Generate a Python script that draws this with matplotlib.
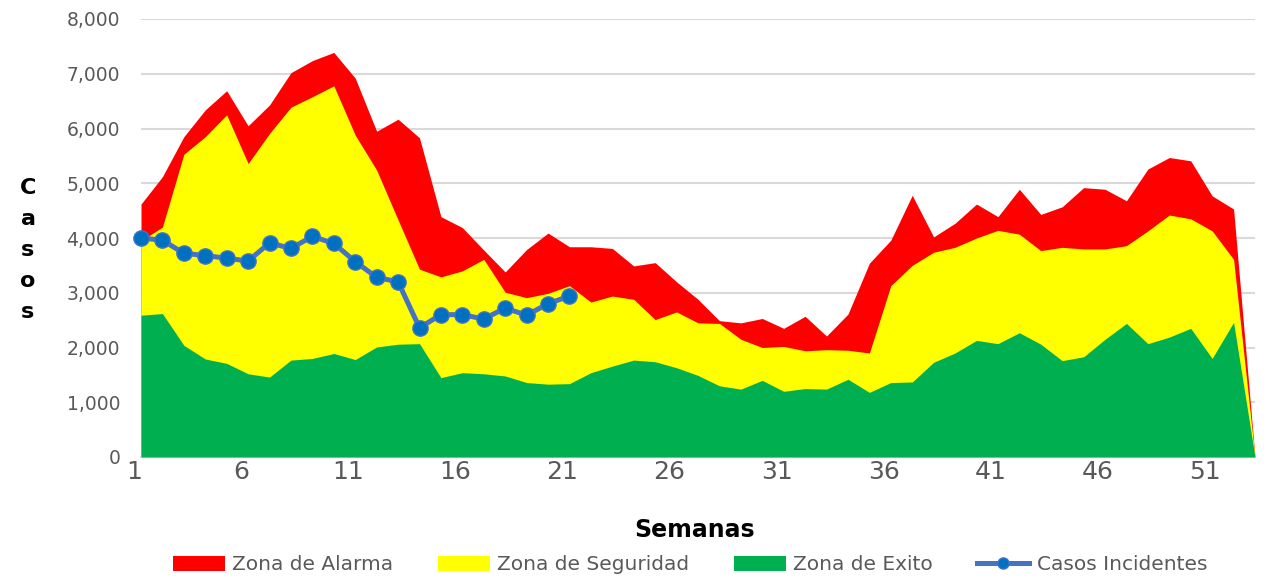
import matplotlib.pyplot as plt
from matplotlib.patches import Patch
from matplotlib.lines import Line2D
from matplotlib.ticker import FuncFormatter
import matplotlib.transforms as mtransforms
import numpy as np

plt.rcParams['font.family'] = ['DejaVu Sans']

weeks = list(range(1, 54))

# Zona de Alarma (upper limit), week 1..53
alarma = [4620, 5120, 5850, 6340, 6690, 6050, 6430, 7020, 7240, 7390,
          6920, 5950, 6170, 5830, 4390, 4190, 3780, 3380, 3790, 4090,
          3840, 3840, 3810, 3490, 3550, 3200, 2880, 2490, 2450, 2530,
          2350, 2570, 2210, 2610, 3540, 3960, 4780, 4020, 4270, 4620,
          4390, 4890, 4430, 4570, 4920, 4890, 4680, 5260, 5470, 5410,
          4770, 4530, 0]

# Zona de Seguridad (upper limit)
seguridad = [3950, 4200, 5530, 5850, 6250, 5360, 5910, 6390, 6580, 6780,
             5880, 5240, 4330, 3430, 3290, 3400, 3610, 3010, 2910, 2990,
             3130, 2830, 2940, 2880, 2510, 2650, 2450, 2440, 2150, 2000,
             2020, 1940, 1960, 1950, 1900, 3130, 3500, 3740, 3830, 4000,
             4140, 4070, 3770, 3830, 3800, 3800, 3860, 4130, 4420, 4350,
             4130, 3610, 0]

# Zona de Exito (upper limit)
exito = [2590, 2620, 2040, 1790, 1710, 1520, 1460, 1770, 1800, 1890,
         1780, 2010, 2060, 2070, 1450, 1540, 1520, 1480, 1360, 1330,
         1340, 1540, 1660, 1770, 1740, 1630, 1490, 1300, 1240, 1400,
         1200, 1250, 1240, 1420, 1180, 1360, 1370, 1730, 1900, 2130,
         2070, 2270, 2060, 1760, 1830, 2150, 2440, 2070, 2190, 2350,
         1800, 2460, 0]

# Casos Incidentes, weeks 1..21
casos = [4000, 3960, 3720, 3680, 3630, 3580, 3910, 3810, 4030, 3900,
         3570, 3280, 3200, 2360, 2600, 2600, 2520, 2720, 2590, 2800, 2940]

red = '#FF0000'
yellow = '#FFFF00'
green = '#00B050'
blue_line = '#4472C4'
blue_mark = '#0070C0'
text_gray = '#595959'

fig = plt.figure(figsize=(12.66, 5.78), dpi=100)
ax = fig.add_axes([141 / 1266, 121 / 578, 1114 / 1266, 438 / 578])

ax.fill_between(weeks, 0, alarma, color=red, lw=0, zorder=2)
ax.fill_between(weeks, 0, seguridad, color=yellow, lw=0, zorder=3)
ax.fill_between(weeks, 0, exito, color=green, lw=0, zorder=4)
ax.plot(weeks[:len(casos)], casos, color=blue_line, lw=3.6, marker='o',
        markersize=11, markerfacecolor=blue_mark, markeredgecolor=blue_line,
        markeredgewidth=1, zorder=5, clip_on=False)

ax.set_xlim(1, 53)
ax.set_ylim(0, 8000)
ax.set_yticks(np.arange(0, 8001, 1000))
ax.yaxis.set_major_formatter(FuncFormatter(lambda v, p: f'{int(v):,}'))
ax.set_xticks(range(1, 54, 5))

ax.grid(axis='y', color='#D9D9D9', lw=1.5, zorder=1)
ax.set_axisbelow(True)
for s in ['top', 'right', 'left']:
    ax.spines[s].set_visible(False)
ax.spines['bottom'].set_color('#D9D9D9')
ax.spines['bottom'].set_linewidth(1.5)

ax.tick_params(axis='y', length=0, pad=15, labelsize=13.5, labelcolor=text_gray)
ax.tick_params(axis='x', length=0, pad=2, labelsize=18, labelcolor=text_gray)
for lab in ax.get_xticklabels():
    lab.set_transform(lab.get_transform() +
                      mtransforms.ScaledTranslation(-7 / 100, 0, fig.dpi_scale_trans))

fig.text(695 / 1266, 1 - 530 / 578, 'Semanas', ha='center', va='center',
         fontsize=17, fontweight='bold', color='black')
fig.text(28 / 1266, 1 - 250 / 578, '\n'.join('Casos'), ha='center', va='center',
         fontsize=16, fontweight='bold', color='black', linespacing=1.7)

handles = [Patch(facecolor=red, edgecolor='none'),
           Patch(facecolor=yellow, edgecolor='none'),
           Patch(facecolor=green, edgecolor='none'),
           Line2D([0], [0], color=blue_line, lw=3.6, marker='o', markersize=8,
                  markerfacecolor=blue_mark, markeredgecolor=blue_line)]
labels = ['Zona de Alarma', 'Zona de Seguridad', 'Zona de Exito', 'Casos Incidentes']
fig.legend(handles, labels, loc='center', bbox_to_anchor=(690 / 1266, 1 - 565 / 578),
           ncol=4, frameon=False, fontsize=14.5, handlelength=2.6, handleheight=0.75,
           columnspacing=2.2, handletextpad=0.35, labelcolor=text_gray)

fig.savefig('out.png', dpi=100)
